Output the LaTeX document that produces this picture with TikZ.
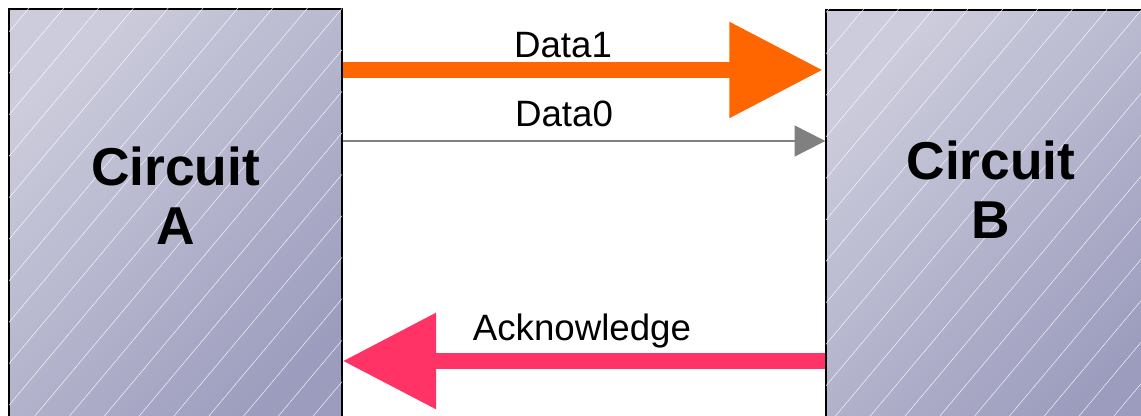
\documentclass[tikz,border=0pt]{standalone}
\usepackage{fontspec}
\setmainfont{Liberation Sans}
\usetikzlibrary{positioning,arrows.meta,patterns.meta}
\definecolor{dataorange}{RGB}{255,102,0}
\definecolor{datagray}{RGB}{128,128,128}
\definecolor{ackpink}{RGB}{255,51,102}
\definecolor{boxlight}{RGB}{204,204,220}
\definecolor{boxdark}{RGB}{156,156,190}
\tikzstyle{circuit}=[draw, line width=1pt, inner sep=0pt, top color=boxlight, bottom color=boxdark, shading angle=45,
    postaction={pattern={Lines[angle=50,distance=20pt,line width=0.3pt]}, pattern color=white, fill opacity=0.35}]
\tikzstyle{circname}=[align=center, font=\bfseries\fontsize{40}{44}\selectfont]
\tikzstyle{siglabel}=[anchor=base, font=\fontsize{27.5}{31}\selectfont]
\tikzstyle{fatarrow}=[line width=12pt, -{Triangle[length=70pt,width=69pt]}]

\begin{document}
\begin{tikzpicture}[x=0.75pt,y=-0.75pt]
    \useasboundingbox (0,0) rectangle (1141,416);

    \node[circuit, minimum width=249.75pt, minimum height=323.25pt] (a) at (175.5,224.5) {};
    \node[circuit, minimum width=247.5pt, minimum height=322.5pt] (b) at (991,225) {};
    \node[circname] (an) at (175.5,196) {Circuit\\A};
    \node[circname] (bn) at (991,190) {Circuit\\B};

    \coordinate (l1) at (0,70);
    \coordinate (l0) at (0,141);
    \coordinate (lk) at (0,361);

    \draw[fatarrow, dataorange] (a.east |- l1) -- ([xshift=-2pt]b.west |- l1);
    \draw[datagray, line width=1.5pt, -{Triangle[length=23pt,width=23pt]}] (a.east |- l0) -- (b.west |- l0);
    \draw[fatarrow, ackpink] (b.west |- lk) -- (a.east |- lk);

    \node[siglabel] (d1) at (563,58) {Data1};
    \node[siglabel] (d0) at (564,127) {Data0};
    \node[siglabel] (ak) at (582,340) {Acknowledge};

\end{tikzpicture}
\end{document}
